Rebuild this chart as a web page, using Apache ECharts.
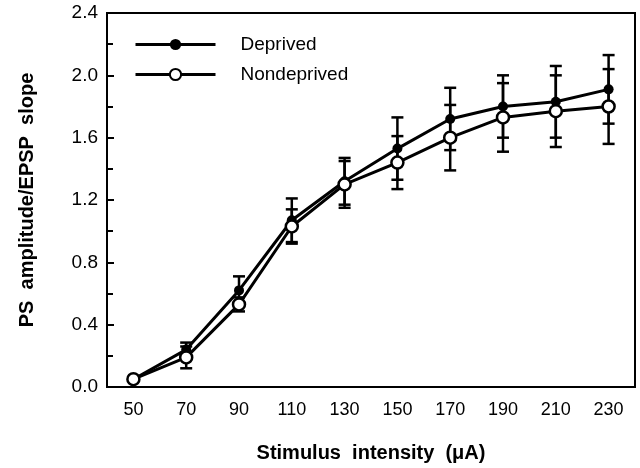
<!DOCTYPE html>
<html><head><meta charset="utf-8">
<script src="https://cdn.jsdelivr.net/npm/echarts@6/dist/echarts.min.js"></script>
<style>html,body{margin:0;padding:0;background:#fff}#c{width:640px;height:468px}</style>
</head><body><div id="c"></div>
<script>
const categories = ['50','70','90','110','130','150','170','190','210','230'];
const deprivedMean = [0.05, 0.24, 0.62, 1.07, 1.32, 1.53, 1.72, 1.80, 1.83, 1.91];
const deprivedErr  = [0.00, 0.045, 0.09, 0.14, 0.15, 0.20, 0.20, 0.20, 0.23, 0.22];
const nondeprivedMean = [0.05, 0.19, 0.53, 1.03, 1.30, 1.44, 1.60, 1.73, 1.77, 1.80];
const nondeprivedErr  = [0.00, 0.07, 0.045, 0.11, 0.15, 0.17, 0.21, 0.22, 0.23, 0.24];
const yMin = 0, yMax = 2.4, yStep = 0.4;

const FONT = '"Liberation Sans", Arial, Helvetica, sans-serif';

function errData(mean, err) {
  return mean.map((m, i) => [i, m - err[i], m + err[i]]);
}
function renderErr(params, api) {
  const x = api.value(0);
  const lo = api.value(1), hi = api.value(2);
  if (hi - lo <= 0) return null;
  const p1 = api.coord([x, lo]);
  const p2 = api.coord([x, hi]);
  const hw = 6;
  const style = { stroke: '#000', lineWidth: 2.5 };
  return {
    type: 'group',
    children: [
      { type: 'line', shape: { x1: p1[0], y1: p1[1], x2: p2[0], y2: p2[1] }, style },
      { type: 'line', shape: { x1: p1[0] - hw, y1: p1[1], x2: p1[0] + hw, y2: p1[1] }, style },
      { type: 'line', shape: { x1: p2[0] - hw, y1: p2[1], x2: p2[0] + hw, y2: p2[1] }, style }
    ]
  };
}

const chart = echarts.init(document.getElementById('c'), null, { renderer: 'canvas' });
chart.setOption({
  animation: false,
  backgroundColor: '#fff',
  textStyle: { fontFamily: FONT, color: '#000' },
  grid: { left: 107, right: 5, top: 13, bottom: 80, show: true, borderColor: '#000', borderWidth: 2, backgroundColor: 'transparent' },
  legend: {
    orient: 'vertical', left: 129, top: 30, itemWidth: 80, itemHeight: 14, itemGap: 11,
    data: ['Deprived', 'Nondeprived'],
    lineStyle: { width: 3, color: '#000' },
    textStyle: { fontFamily: FONT, fontSize: 19, color: '#000', padding: [0, 0, 0, 20] }
  },
  xAxis: {
    type: 'category', data: categories, boundaryGap: true,
    name: 'Stimulus  intensity  (μA)', nameLocation: 'middle', nameGap: 56,
    nameTextStyle: { fontFamily: FONT, fontWeight: 'bold', fontSize: 20, color: '#000' },
    axisLine: { lineStyle: { color: '#000', width: 2 } },
    axisTick: { alignWithLabel: true, inside: true, length: 8, lineStyle: { color: '#000', width: 2 } },
    axisLabel: { fontFamily: FONT, fontSize: 18, color: '#000', margin: 14 },
    splitLine: { show: false }
  },
  yAxis: {
    type: 'value', min: yMin, max: yMax, interval: yStep,
    name: 'PS  amplitude/EPSP  slope', nameLocation: 'middle', nameGap: 70,
    nameTextStyle: { fontFamily: FONT, fontWeight: 'bold', fontSize: 20, color: '#000' },
    axisLine: { show: true, lineStyle: { color: '#000', width: 2 } },
    axisTick: { show: true, inside: true, length: 7, lineStyle: { color: '#000', width: 2 } },
    minorTick: { show: true, splitNumber: 2, length: 6, lineStyle: { color: '#000', width: 2 } },
    axisLabel: { fontFamily: FONT, fontSize: 19, color: '#000', margin: 9, formatter: v => v.toFixed(1) },
    splitLine: { show: false }
  },
  series: [
    { type: 'custom', name: 'errD', renderItem: renderErr, data: errData(deprivedMean, deprivedErr), encode: { x: 0, y: [1, 2] }, z: 1, silent: true },
    { type: 'custom', name: 'errN', renderItem: renderErr, data: errData(nondeprivedMean, nondeprivedErr), encode: { x: 0, y: [1, 2] }, z: 1, silent: true },
    { type: 'line', name: 'Deprived', data: deprivedMean, symbol: 'circle', symbolSize: 10,
      lineStyle: { color: '#000', width: 3 }, itemStyle: { color: '#000', borderColor: '#000', borderWidth: 0 }, z: 3 },
    { type: 'line', name: 'Nondeprived', data: nondeprivedMean, symbol: 'circle', symbolSize: 12,
      lineStyle: { color: '#000', width: 3 }, itemStyle: { color: '#fff', borderColor: '#000', borderWidth: 2.5 }, z: 4 }
  ]
});
</script></body></html>
